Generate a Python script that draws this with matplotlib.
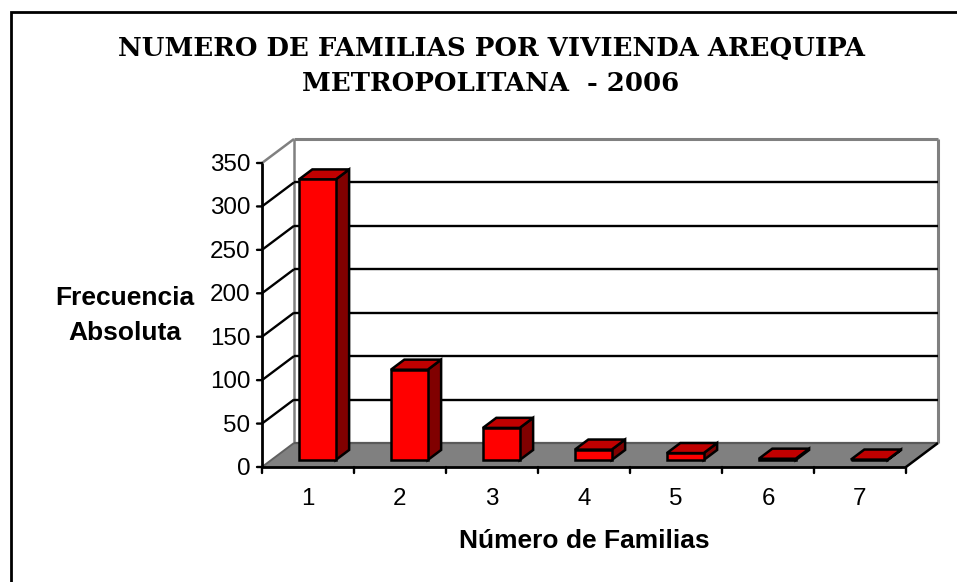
import matplotlib
matplotlib.use("Agg")
import matplotlib.pyplot as plt
from matplotlib.lines import Line2D
from matplotlib.patches import Polygon

categories = [1, 2, 3, 4, 5, 6, 7]
frequencies = [323, 104, 37, 12, 8, 1.5, 0.5]
y_ticks = [0, 50, 100, 150, 200, 250, 300, 350]

W, H = 957, 582
fig = plt.figure(figsize=(W / 100, H / 100), dpi=100, facecolor="white")
L, R, T, B = 262, 906, 163, 467
ax = fig.add_axes([L / W, 1 - B / H, (R - L) / W, (B - T) / H])
ax.set_xlim(0.5, 7.5)
ax.set_ylim(0, 350)
ax.set_axis_off()

DX = 32 * 7 / (R - L)          # full depth in x-data units
DY = 24 * 350 / (B - T)        # full depth in y-data units
BAR_W = 0.4
D0, D1 = 0.29, 0.71
SANS = "Liberation Sans"


def P(x, y, d=0.0):
    return (x + d * DX, y + d * DY)


def poly(points, fc, ec="black", lw=1.8, z=3):
    ax.add_patch(Polygon(points, closed=True, fc=fc, ec=ec, lw=lw, zorder=z,
                         clip_on=False, joinstyle="miter"))


def seg(a, b, color="black", lw=1.6, z=2):
    ax.plot([a[0], b[0]], [a[1], b[1]], color=color, lw=lw, zorder=z,
            clip_on=False, solid_capstyle="butt")


x0, x1 = 0.5, 7.5
# floor
poly([P(x0, 0), P(x1, 0), P(x1, 0, 1), P(x0, 0, 1)], "#808080", "none", 0, 1)
# walls frame
GR = "#808080"
seg(P(x0, 0, 1), P(x0, 350, 1), GR, 1.8)
seg(P(x0, 350, 1), P(x1, 350, 1), GR, 2.2)
seg(P(x1, 0, 1), P(x1, 350, 1), GR, 2.2)
seg(P(x0, 0, 1), P(x1, 0, 1), "#5a5a5a", 1.6)
seg(P(x0, 350), P(x0, 350, 1), GR, 1.8)
seg(P(x0, 0), P(x0, 0, 1), "#606060", 1.4)
seg(P(x1, 0), P(x1, 0, 1), "black", 1.8)
# gridlines
for v in y_ticks[1:-1]:
    seg(P(x0, v), P(x0, v, 1), "black", 1.7)
    seg(P(x0, v, 1), P(x1, v, 1), "black", 1.7)

# axes and ticks
seg(P(x0, 0), P(x0, 350), "black", 2.0, 4)
seg(P(x0, 0), P(x1, 0), "black", 2.0, 4)
for v in y_ticks:
    ax.annotate("", xy=(x0, v), xytext=(-5, 0), textcoords="offset pixels",
                arrowprops=dict(arrowstyle="-", lw=1.7, color="black",
                                shrinkA=0, shrinkB=0), annotation_clip=False)
    ax.annotate(str(v), xy=(x0, v), xytext=(-12, -2), textcoords="offset pixels",
                ha="right", va="center", fontsize=17.4, family=SANS,
                annotation_clip=False)
for i in range(len(categories) + 1):
    ax.annotate("", xy=(x0 + i, 0), xytext=(0, -6), textcoords="offset pixels",
                arrowprops=dict(arrowstyle="-", lw=1.7, color="black",
                                shrinkA=0, shrinkB=0), annotation_clip=False)
for c in categories:
    ax.annotate(str(c), xy=(c, 0), xytext=(0, -32), textcoords="offset pixels",
                ha="center", va="center", fontsize=17.4, family=SANS,
                annotation_clip=False)

# bars
for c, v in zip(categories, frequencies):
    l, r = c - BAR_W / 2, c + BAR_W / 2
    poly([P(r, 0, D0), P(r, 0, D1), P(r, v, D1), P(r, v, D0)], "#800000")
    poly([P(l, v, D0), P(r, v, D0), P(r, v, D1), P(l, v, D1)], "#C00000")
    poly([P(l, 0, D0), P(r, 0, D0), P(r, v, D0), P(l, v, D0)], "#FF0000")

# outer frame: only the top and left edges fall inside the picture
fig.add_artist(Line2D([11 / W, 11 / W, 1], [0, 1 - 12 / H, 1 - 12 / H],
                      transform=fig.transFigure, color="black", lw=2.0,
                      solid_joinstyle="miter"))
TITLE = dict(ha="center", va="center", family="DejaVu Serif", fontsize=18.7,
             fontweight="bold", color="black")
fig.text(492 / W, 1 - 48 / H, "NUMERO DE FAMILIAS POR VIVIENDA AREQUIPA", **TITLE)
fig.text(491 / W, 1 - 84 / H, "METROPOLITANA  - 2006", **TITLE)
LAB = dict(ha="center", va="center", family=SANS, fontsize=19.0, fontweight="bold")
fig.text(125 / W, 1 - 298 / H, "Frecuencia", **LAB)
fig.text(125 / W, 1 - 333 / H, "Absoluta", **LAB)
fig.text(584.5 / W, 1 - 541 / H, "Número de Familias", **LAB)

fig.savefig("out.png", dpi=100)
